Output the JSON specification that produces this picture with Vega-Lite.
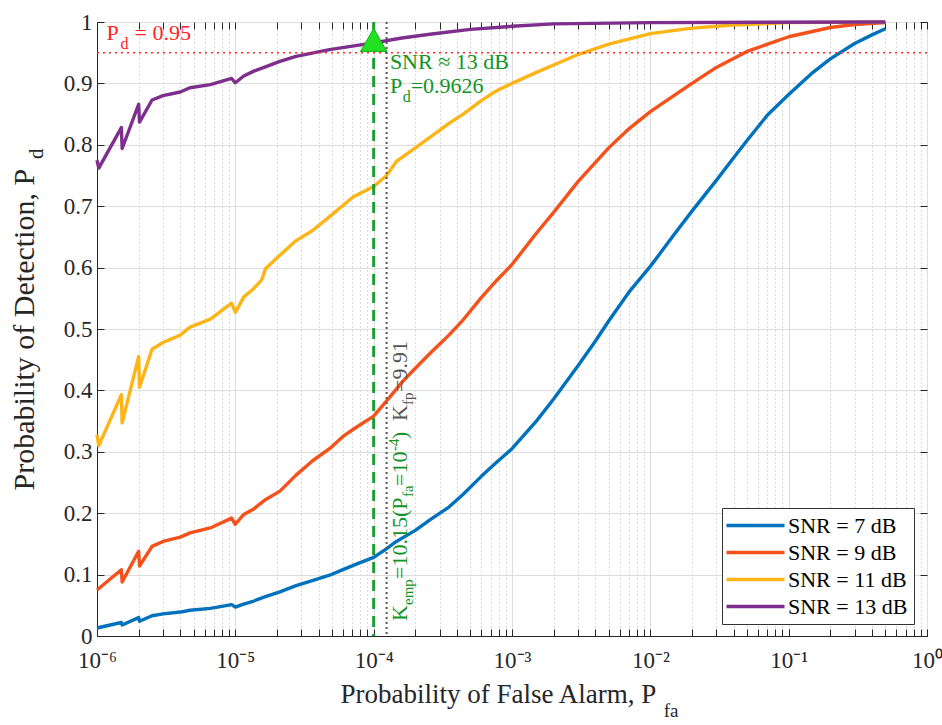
{
  "$schema": "https://vega.github.io/schema/vega-lite/v6.json",
  "width": 830,
  "height": 614,
  "autosize": "none",
  "padding": {"left": 97, "top": 22, "right": 15, "bottom": 89},
  "background": "white",
  "config": {
    "view": {"stroke": "#262626", "strokeWidth": 1},
    "font": "Liberation Serif, Times New Roman, serif",
    "text": {"font": "Liberation Serif, Times New Roman, serif"}
  },
  "datasets": {
    "curves": [
      {"snr": "SNR = 7 dB", "pfa": 1e-6, "pd": 0.013},
      {"snr": "SNR = 7 dB", "pfa": 1.5e-6, "pd": 0.022},
      {"snr": "SNR = 7 dB", "pfa": 1.52e-6, "pd": 0.018},
      {"snr": "SNR = 7 dB", "pfa": 2e-6, "pd": 0.03},
      {"snr": "SNR = 7 dB", "pfa": 2.03e-6, "pd": 0.024},
      {"snr": "SNR = 7 dB", "pfa": 2.5e-6, "pd": 0.033},
      {"snr": "SNR = 7 dB", "pfa": 3e-6, "pd": 0.036},
      {"snr": "SNR = 7 dB", "pfa": 4e-6, "pd": 0.039},
      {"snr": "SNR = 7 dB", "pfa": 4.7e-6, "pd": 0.042},
      {"snr": "SNR = 7 dB", "pfa": 6.6e-6, "pd": 0.045},
      {"snr": "SNR = 7 dB", "pfa": 9.4e-6, "pd": 0.051},
      {"snr": "SNR = 7 dB", "pfa": 1e-5, "pd": 0.047},
      {"snr": "SNR = 7 dB", "pfa": 1.15e-5, "pd": 0.052},
      {"snr": "SNR = 7 dB", "pfa": 1.36e-5, "pd": 0.057},
      {"snr": "SNR = 7 dB", "pfa": 1.65e-5, "pd": 0.064},
      {"snr": "SNR = 7 dB", "pfa": 2.1e-5, "pd": 0.072},
      {"snr": "SNR = 7 dB", "pfa": 2.75e-5, "pd": 0.082},
      {"snr": "SNR = 7 dB", "pfa": 3.6e-5, "pd": 0.09},
      {"snr": "SNR = 7 dB", "pfa": 4.8e-5, "pd": 0.099},
      {"snr": "SNR = 7 dB", "pfa": 6e-5, "pd": 0.108},
      {"snr": "SNR = 7 dB", "pfa": 7.5e-5, "pd": 0.117},
      {"snr": "SNR = 7 dB", "pfa": 1e-4, "pd": 0.128},
      {"snr": "SNR = 7 dB", "pfa": 1.2e-4, "pd": 0.14},
      {"snr": "SNR = 7 dB", "pfa": 1.46e-4, "pd": 0.154},
      {"snr": "SNR = 7 dB", "pfa": 2e-4, "pd": 0.172},
      {"snr": "SNR = 7 dB", "pfa": 2.55e-4, "pd": 0.189},
      {"snr": "SNR = 7 dB", "pfa": 3.5e-4, "pd": 0.21},
      {"snr": "SNR = 7 dB", "pfa": 4.44e-4, "pd": 0.231},
      {"snr": "SNR = 7 dB", "pfa": 6e-4, "pd": 0.26},
      {"snr": "SNR = 7 dB", "pfa": 7.74e-4, "pd": 0.283},
      {"snr": "SNR = 7 dB", "pfa": 1e-3, "pd": 0.305},
      {"snr": "SNR = 7 dB", "pfa": 1.5e-3, "pd": 0.35},
      {"snr": "SNR = 7 dB", "pfa": 2e-3, "pd": 0.386},
      {"snr": "SNR = 7 dB", "pfa": 3e-3, "pd": 0.44},
      {"snr": "SNR = 7 dB", "pfa": 4e-3, "pd": 0.48},
      {"snr": "SNR = 7 dB", "pfa": 5e-3, "pd": 0.513},
      {"snr": "SNR = 7 dB", "pfa": 7e-3, "pd": 0.56},
      {"snr": "SNR = 7 dB", "pfa": 1e-2, "pd": 0.602},
      {"snr": "SNR = 7 dB", "pfa": 1.5e-2, "pd": 0.655},
      {"snr": "SNR = 7 dB", "pfa": 2e-2, "pd": 0.692},
      {"snr": "SNR = 7 dB", "pfa": 3e-2, "pd": 0.742},
      {"snr": "SNR = 7 dB", "pfa": 4e-2, "pd": 0.779},
      {"snr": "SNR = 7 dB", "pfa": 5e-2, "pd": 0.807},
      {"snr": "SNR = 7 dB", "pfa": 7e-2, "pd": 0.848},
      {"snr": "SNR = 7 dB", "pfa": 0.1, "pd": 0.882},
      {"snr": "SNR = 7 dB", "pfa": 0.15, "pd": 0.918},
      {"snr": "SNR = 7 dB", "pfa": 0.2, "pd": 0.94},
      {"snr": "SNR = 7 dB", "pfa": 0.3, "pd": 0.965},
      {"snr": "SNR = 7 dB", "pfa": 0.4, "pd": 0.979},
      {"snr": "SNR = 7 dB", "pfa": 0.5, "pd": 0.989},
      {"snr": "SNR = 9 dB", "pfa": 1e-6, "pd": 0.075},
      {"snr": "SNR = 9 dB", "pfa": 1.5e-6, "pd": 0.108},
      {"snr": "SNR = 9 dB", "pfa": 1.52e-6, "pd": 0.088},
      {"snr": "SNR = 9 dB", "pfa": 2e-6, "pd": 0.138},
      {"snr": "SNR = 9 dB", "pfa": 2.03e-6, "pd": 0.114},
      {"snr": "SNR = 9 dB", "pfa": 2.5e-6, "pd": 0.146},
      {"snr": "SNR = 9 dB", "pfa": 3e-6, "pd": 0.154},
      {"snr": "SNR = 9 dB", "pfa": 4e-6, "pd": 0.161},
      {"snr": "SNR = 9 dB", "pfa": 4.7e-6, "pd": 0.168},
      {"snr": "SNR = 9 dB", "pfa": 6.6e-6, "pd": 0.176},
      {"snr": "SNR = 9 dB", "pfa": 9.4e-6, "pd": 0.192},
      {"snr": "SNR = 9 dB", "pfa": 1e-5, "pd": 0.182},
      {"snr": "SNR = 9 dB", "pfa": 1.15e-5, "pd": 0.198},
      {"snr": "SNR = 9 dB", "pfa": 1.36e-5, "pd": 0.207},
      {"snr": "SNR = 9 dB", "pfa": 1.65e-5, "pd": 0.222},
      {"snr": "SNR = 9 dB", "pfa": 2.1e-5, "pd": 0.236},
      {"snr": "SNR = 9 dB", "pfa": 2.75e-5, "pd": 0.262},
      {"snr": "SNR = 9 dB", "pfa": 3.6e-5, "pd": 0.285},
      {"snr": "SNR = 9 dB", "pfa": 4.8e-5, "pd": 0.305},
      {"snr": "SNR = 9 dB", "pfa": 6e-5, "pd": 0.325},
      {"snr": "SNR = 9 dB", "pfa": 7.5e-5, "pd": 0.34},
      {"snr": "SNR = 9 dB", "pfa": 1e-4, "pd": 0.358},
      {"snr": "SNR = 9 dB", "pfa": 1.24e-4, "pd": 0.383},
      {"snr": "SNR = 9 dB", "pfa": 1.63e-4, "pd": 0.415},
      {"snr": "SNR = 9 dB", "pfa": 2e-4, "pd": 0.436},
      {"snr": "SNR = 9 dB", "pfa": 2.55e-4, "pd": 0.46},
      {"snr": "SNR = 9 dB", "pfa": 3.5e-4, "pd": 0.49},
      {"snr": "SNR = 9 dB", "pfa": 4.44e-4, "pd": 0.515},
      {"snr": "SNR = 9 dB", "pfa": 6e-4, "pd": 0.551},
      {"snr": "SNR = 9 dB", "pfa": 7.74e-4, "pd": 0.579},
      {"snr": "SNR = 9 dB", "pfa": 1e-3, "pd": 0.605},
      {"snr": "SNR = 9 dB", "pfa": 1.5e-3, "pd": 0.656},
      {"snr": "SNR = 9 dB", "pfa": 2e-3, "pd": 0.69},
      {"snr": "SNR = 9 dB", "pfa": 3e-3, "pd": 0.74},
      {"snr": "SNR = 9 dB", "pfa": 5e-3, "pd": 0.795},
      {"snr": "SNR = 9 dB", "pfa": 7e-3, "pd": 0.826},
      {"snr": "SNR = 9 dB", "pfa": 1e-2, "pd": 0.854},
      {"snr": "SNR = 9 dB", "pfa": 2e-2, "pd": 0.9},
      {"snr": "SNR = 9 dB", "pfa": 3e-2, "pd": 0.926},
      {"snr": "SNR = 9 dB", "pfa": 5e-2, "pd": 0.952},
      {"snr": "SNR = 9 dB", "pfa": 0.1, "pd": 0.976},
      {"snr": "SNR = 9 dB", "pfa": 0.2, "pd": 0.991},
      {"snr": "SNR = 9 dB", "pfa": 0.3, "pd": 0.996},
      {"snr": "SNR = 9 dB", "pfa": 0.5, "pd": 0.999},
      {"snr": "SNR = 11 dB", "pfa": 1e-6, "pd": 0.328},
      {"snr": "SNR = 11 dB", "pfa": 1.03e-6, "pd": 0.31},
      {"snr": "SNR = 11 dB", "pfa": 1.5e-6, "pd": 0.393},
      {"snr": "SNR = 11 dB", "pfa": 1.52e-6, "pd": 0.347},
      {"snr": "SNR = 11 dB", "pfa": 2e-6, "pd": 0.455},
      {"snr": "SNR = 11 dB", "pfa": 2.03e-6, "pd": 0.405},
      {"snr": "SNR = 11 dB", "pfa": 2.5e-6, "pd": 0.467},
      {"snr": "SNR = 11 dB", "pfa": 3e-6, "pd": 0.478},
      {"snr": "SNR = 11 dB", "pfa": 4e-6, "pd": 0.49},
      {"snr": "SNR = 11 dB", "pfa": 4.7e-6, "pd": 0.503},
      {"snr": "SNR = 11 dB", "pfa": 6.6e-6, "pd": 0.516},
      {"snr": "SNR = 11 dB", "pfa": 9.4e-6, "pd": 0.542},
      {"snr": "SNR = 11 dB", "pfa": 1e-5, "pd": 0.527},
      {"snr": "SNR = 11 dB", "pfa": 1.15e-5, "pd": 0.552},
      {"snr": "SNR = 11 dB", "pfa": 1.36e-5, "pd": 0.566},
      {"snr": "SNR = 11 dB", "pfa": 1.55e-5, "pd": 0.58},
      {"snr": "SNR = 11 dB", "pfa": 1.65e-5, "pd": 0.598},
      {"snr": "SNR = 11 dB", "pfa": 2.1e-5, "pd": 0.62},
      {"snr": "SNR = 11 dB", "pfa": 2.75e-5, "pd": 0.644},
      {"snr": "SNR = 11 dB", "pfa": 3.6e-5, "pd": 0.66},
      {"snr": "SNR = 11 dB", "pfa": 4.8e-5, "pd": 0.683},
      {"snr": "SNR = 11 dB", "pfa": 7.1e-5, "pd": 0.715},
      {"snr": "SNR = 11 dB", "pfa": 1e-4, "pd": 0.732},
      {"snr": "SNR = 11 dB", "pfa": 1.24e-4, "pd": 0.75},
      {"snr": "SNR = 11 dB", "pfa": 1.46e-4, "pd": 0.773},
      {"snr": "SNR = 11 dB", "pfa": 2e-4, "pd": 0.795},
      {"snr": "SNR = 11 dB", "pfa": 2.55e-4, "pd": 0.812},
      {"snr": "SNR = 11 dB", "pfa": 3.5e-4, "pd": 0.835},
      {"snr": "SNR = 11 dB", "pfa": 4.44e-4, "pd": 0.85},
      {"snr": "SNR = 11 dB", "pfa": 6e-4, "pd": 0.872},
      {"snr": "SNR = 11 dB", "pfa": 7.74e-4, "pd": 0.888},
      {"snr": "SNR = 11 dB", "pfa": 1e-3, "pd": 0.9},
      {"snr": "SNR = 11 dB", "pfa": 1.5e-3, "pd": 0.918},
      {"snr": "SNR = 11 dB", "pfa": 2e-3, "pd": 0.93},
      {"snr": "SNR = 11 dB", "pfa": 3e-3, "pd": 0.947},
      {"snr": "SNR = 11 dB", "pfa": 5e-3, "pd": 0.964},
      {"snr": "SNR = 11 dB", "pfa": 1e-2, "pd": 0.981},
      {"snr": "SNR = 11 dB", "pfa": 2e-2, "pd": 0.99},
      {"snr": "SNR = 11 dB", "pfa": 4e-2, "pd": 0.995},
      {"snr": "SNR = 11 dB", "pfa": 0.1, "pd": 0.999},
      {"snr": "SNR = 11 dB", "pfa": 0.5, "pd": 1.0},
      {"snr": "SNR = 13 dB", "pfa": 1e-6, "pd": 0.775},
      {"snr": "SNR = 13 dB", "pfa": 1.03e-6, "pd": 0.762},
      {"snr": "SNR = 13 dB", "pfa": 1.5e-6, "pd": 0.828},
      {"snr": "SNR = 13 dB", "pfa": 1.52e-6, "pd": 0.794},
      {"snr": "SNR = 13 dB", "pfa": 2e-6, "pd": 0.866},
      {"snr": "SNR = 13 dB", "pfa": 2.03e-6, "pd": 0.837},
      {"snr": "SNR = 13 dB", "pfa": 2.5e-6, "pd": 0.873},
      {"snr": "SNR = 13 dB", "pfa": 3e-6, "pd": 0.88},
      {"snr": "SNR = 13 dB", "pfa": 4e-6, "pd": 0.886},
      {"snr": "SNR = 13 dB", "pfa": 4.7e-6, "pd": 0.893},
      {"snr": "SNR = 13 dB", "pfa": 6.6e-6, "pd": 0.898},
      {"snr": "SNR = 13 dB", "pfa": 9.4e-6, "pd": 0.908},
      {"snr": "SNR = 13 dB", "pfa": 1e-5, "pd": 0.901},
      {"snr": "SNR = 13 dB", "pfa": 1.15e-5, "pd": 0.912},
      {"snr": "SNR = 13 dB", "pfa": 1.36e-5, "pd": 0.92},
      {"snr": "SNR = 13 dB", "pfa": 1.65e-5, "pd": 0.927},
      {"snr": "SNR = 13 dB", "pfa": 2.1e-5, "pd": 0.936},
      {"snr": "SNR = 13 dB", "pfa": 2.75e-5, "pd": 0.944},
      {"snr": "SNR = 13 dB", "pfa": 4.8e-5, "pd": 0.955},
      {"snr": "SNR = 13 dB", "pfa": 1e-4, "pd": 0.966},
      {"snr": "SNR = 13 dB", "pfa": 1.6e-4, "pd": 0.974},
      {"snr": "SNR = 13 dB", "pfa": 2.55e-4, "pd": 0.98},
      {"snr": "SNR = 13 dB", "pfa": 5e-4, "pd": 0.988},
      {"snr": "SNR = 13 dB", "pfa": 1e-3, "pd": 0.993},
      {"snr": "SNR = 13 dB", "pfa": 2e-3, "pd": 0.997},
      {"snr": "SNR = 13 dB", "pfa": 1e-2, "pd": 0.999},
      {"snr": "SNR = 13 dB", "pfa": 0.5, "pd": 1.0}
    ],
    "refs": [
      {"name": "Pd = 0.95", "pd": 0.95},
      {"name": "Pfa = 1e-4", "pfa": 0.0001},
      {"name": "Kfp", "pfa": 0.000124}
    ],
    "ann": [
      {"g": "redBig", "t": "P", "x": 1.17e-6, "y": 0.9707},
      {"g": "redBig", "t": "= 0.95", "x": 1.87e-6, "y": 0.9707},
      {"g": "redSub", "t": "d", "x": 1.48e-6, "y": 0.956},
      {"g": "greenBig", "t": "SNR ≈ 13 dB", "x": 1.31e-4, "y": 0.9235},
      {"g": "greenBig", "t": "P", "x": 1.31e-4, "y": 0.8844},
      {"g": "greenSub", "t": "d", "x": 1.62e-4, "y": 0.8697},
      {"g": "greenBig", "t": "=0.9626", "x": 1.85e-4, "y": 0.8844},
      {"g": "marker", "t": "", "x": 1e-4, "y": 0.9626},
      {"g": "vGreenBig", "t": "K", "x": 1.73e-4, "y": 0.0244},
      {"g": "vGreenSub", "t": "emp", "x": 1.91e-4, "y": 0.0505},
      {"g": "vGreenBig", "t": "=10.15(P", "x": 1.73e-4, "y": 0.0928},
      {"g": "vGreenSub", "t": "fa", "x": 1.91e-4, "y": 0.2264},
      {"g": "vGreenBig", "t": "=10", "x": 1.73e-4, "y": 0.2443},
      {"g": "vGreenSup", "t": "-4", "x": 1.52e-4, "y": 0.3013},
      {"g": "vGreenBig", "t": ")", "x": 1.73e-4, "y": 0.3208},
      {"g": "vGreyBig", "t": "K", "x": 1.73e-4, "y": 0.3502},
      {"g": "vGreySub", "t": "fp", "x": 1.91e-4, "y": 0.3762},
      {"g": "vGreyBig", "t": "=9.91", "x": 1.73e-4, "y": 0.3974},
      {"g": "ySub", "t": "d", "x": 4.05e-7, "y": 0.777},
      {"g": "xSub", "t": "fa", "x": 0.0125, "y": -0.1319}
    ]
  },
  "resolve": {"axis": {"x": "independent", "y": "independent"}},
  "layer": [
    {
      "data": {"name": "curves"},
      "mark": {"type": "line", "strokeWidth": 3.4, "strokeJoin": "round"},
      "encoding": {
        "x": {
          "field": "pfa", "type": "quantitative",
          "scale": {"type": "log", "domain": [1e-6, 1], "nice": false},
          "axis": {
            "orient": "bottom",
            "values": [1e-6, 2e-6, 3e-6, 4e-6, 5e-6, 6e-6, 7e-6, 8e-6, 9e-6, 1e-5, 2e-5, 3e-5, 4e-5, 5e-5, 6e-5, 7e-5, 8e-5, 9e-5, 1e-4, 2e-4, 3e-4, 4e-4, 5e-4, 6e-4, 7e-4, 8e-4, 9e-4, 0.001, 0.002, 0.003, 0.004, 0.005, 0.006, 0.007, 0.008, 0.009, 0.01, 0.02, 0.03, 0.04, 0.05, 0.06, 0.07, 0.08, 0.09, 0.1, 0.2, 0.3, 0.4, 0.5, 0.6, 0.7, 0.8, 0.9, 1],
            "labelExpr": "abs(log(datum.value)/LN10 - round(log(datum.value)/LN10)) > 0.01 ? '' : ['10⁰','10⁻¹','10⁻²','10⁻³','10⁻⁴','10⁻⁵','10⁻⁶'][-round(log(datum.value)/LN10)]",
            "labelFont": "Liberation Serif, Times New Roman, serif", "labelFontSize": 23, "labelColor": "#262626",
            "labelPadding": 20, "labelOverlap": false, "labelFlush": false, "labelBound": false,
            "tickSize": -7, "tickColor": "#262626", "tickWidth": 1,
            "domainColor": "#262626",
            "grid": true,
            "gridColor": {"condition": {"test": "abs(log(datum.value)/LN10 - round(log(datum.value)/LN10)) > 0.01", "value": "#b8b8b8"}, "value": "#dddddd"},
            "gridDash": {"condition": {"test": "abs(log(datum.value)/LN10 - round(log(datum.value)/LN10)) > 0.01", "value": [1, 3]}, "value": []},
            "title": "Probability of False Alarm,  P",
            "titleFont": "Liberation Serif, Times New Roman, serif", "titleFontSize": 27, "titleFontWeight": "normal", "titleColor": "#262626",
            "titleAnchor": "start", "titleAlign": "left", "titleBaseline": "alphabetic", "titleX": 243, "titleY": 66
          }
        },
        "y": {
          "field": "pd", "type": "quantitative",
          "scale": {"domain": [0, 1], "nice": false},
          "axis": {
            "orient": "left",
            "values": [0, 0.1, 0.2, 0.3, 0.4, 0.5, 0.6, 0.7, 0.8, 0.9, 1],
            "labelExpr": "datum.value == 0 ? '0' : datum.value == 1 ? '1' : format(datum.value, '.1f')",
            "labelFont": "Liberation Serif, Times New Roman, serif", "labelFontSize": 23, "labelColor": "#262626",
            "labelPadding": 12, "labelOverlap": false, "labelFlush": false, "labelBound": false,
            "tickSize": -7, "tickColor": "#262626",
            "domainColor": "#262626",
            "grid": true, "gridColor": "#dddddd",
            "title": "Probability of Detection,  P",
            "titleFont": "Liberation Serif, Times New Roman, serif", "titleFontSize": 30, "titleFontWeight": "normal", "titleColor": "#262626",
            "titleAngle": 270, "titleAnchor": "start", "titleAlign": "left", "titleBaseline": "alphabetic", "titleX": -64, "titleY": 468
          }
        },
        "color": {
          "field": "snr", "type": "nominal",
          "scale": {"domain": ["SNR = 7 dB", "SNR = 9 dB", "SNR = 11 dB", "SNR = 13 dB"], "range": ["#0072BD", "#F4511B", "#FDB417", "#7E2F8E"]},
          "legend": {
            "title": null, "orient": "none", "legendX": 625, "legendY": 486,
            "labelFont": "Liberation Serif, Times New Roman, serif", "labelFontSize": 22, "labelColor": "#000000",
            "symbolType": "M-3,0H3", "symbolSize": 374, "symbolStrokeWidth": 3.5,
            "symbolOffset": 16, "labelOffset": 21,
            "strokeColor": "#333333", "fillColor": "white", "padding": 6, "rowPadding": 4
          }
        }
      }
    },
    {
      "data": {"name": "curves"},
      "mark": {"type": "point", "opacity": 0},
      "encoding": {
        "x": {
          "field": "pfa", "type": "quantitative",
          "scale": {"type": "log", "domain": [1e-6, 1], "nice": false},
          "axis": {
            "orient": "top",
            "values": [1e-6, 2e-6, 3e-6, 4e-6, 5e-6, 6e-6, 7e-6, 8e-6, 9e-6, 1e-5, 2e-5, 3e-5, 4e-5, 5e-5, 6e-5, 7e-5, 8e-5, 9e-5, 1e-4, 2e-4, 3e-4, 4e-4, 5e-4, 6e-4, 7e-4, 8e-4, 9e-4, 0.001, 0.002, 0.003, 0.004, 0.005, 0.006, 0.007, 0.008, 0.009, 0.01, 0.02, 0.03, 0.04, 0.05, 0.06, 0.07, 0.08, 0.09, 0.1, 0.2, 0.3, 0.4, 0.5, 0.6, 0.7, 0.8, 0.9, 1],
            "labels": false, "grid": false, "domain": false, "title": null,
            "tickSize": -7, "tickColor": "#262626"
          }
        },
        "y": {
          "field": "pd", "type": "quantitative",
          "scale": {"domain": [0, 1], "nice": false},
          "axis": {
            "orient": "right",
            "values": [0, 0.1, 0.2, 0.3, 0.4, 0.5, 0.6, 0.7, 0.8, 0.9, 1],
            "labels": false, "grid": false, "domain": false, "title": null,
            "tickSize": -7, "tickColor": "#262626"
          }
        }
      }
    },
    {
      "data": {"name": "refs"},
      "transform": [{"filter": "datum.name == 'Pd = 0.95'"}],
      "mark": {"type": "rule", "color": "#ff2a2a", "strokeDash": [2, 4], "strokeWidth": 1.6},
      "encoding": {
        "y": {"field": "pd", "type": "quantitative", "scale": {"domain": [0, 1], "nice": false}, "axis": null}
      }
    },
    {
      "data": {"name": "refs"},
      "transform": [{"filter": "datum.name == 'Kfp'"}],
      "mark": {"type": "rule", "color": "#555555", "strokeDash": [2, 3], "strokeWidth": 2},
      "encoding": {
        "x": {"field": "pfa", "type": "quantitative", "scale": {"type": "log", "domain": [1e-6, 1], "nice": false}, "axis": null}
      }
    },
    {
      "data": {"name": "refs"},
      "transform": [{"filter": "datum.name == 'Pfa = 1e-4'"}],
      "mark": {"type": "rule", "color": "#1e9e32", "strokeDash": [11, 7], "strokeWidth": 3},
      "encoding": {
        "x": {"field": "pfa", "type": "quantitative", "scale": {"type": "log", "domain": [1e-6, 1], "nice": false}, "axis": null}
      }
    },
    {
      "data": {"name": "ann"},
      "transform": [{"filter": "datum.g == 'marker'"}],
      "mark": {"type": "point", "shape": "triangle-up", "filled": true, "fill": "#22e022", "stroke": "#16b016", "strokeWidth": 1, "size": 700, "opacity": 1, "yOffset": -5},
      "encoding": {
        "x": {"field": "x", "type": "quantitative", "scale": {"type": "log", "domain": [1e-6, 1], "nice": false}, "axis": null},
        "y": {"field": "y", "type": "quantitative", "scale": {"domain": [0, 1], "nice": false}, "axis": null}
      }
    },
    {
      "data": {"name": "ann"},
      "transform": [{"filter": "datum.g == 'redBig'"}],
      "mark": {"type": "text", "align": "left", "baseline": "alphabetic", "font": "Liberation Serif, Times New Roman, serif", "fontSize": 22, "color": "#ff2424"},
      "encoding": {
        "x": {"field": "x", "type": "quantitative", "scale": {"type": "log", "domain": [1e-6, 1], "nice": false}, "axis": null},
        "y": {"field": "y", "type": "quantitative", "scale": {"domain": [0, 1], "nice": false}, "axis": null},
        "text": {"field": "t"}
      }
    },
    {
      "data": {"name": "ann"},
      "transform": [{"filter": "datum.g == 'redSub'"}],
      "mark": {"type": "text", "align": "left", "baseline": "alphabetic", "font": "Liberation Serif, Times New Roman, serif", "fontSize": 16, "color": "#ff2424"},
      "encoding": {
        "x": {"field": "x", "type": "quantitative", "scale": {"type": "log", "domain": [1e-6, 1], "nice": false}, "axis": null},
        "y": {"field": "y", "type": "quantitative", "scale": {"domain": [0, 1], "nice": false}, "axis": null},
        "text": {"field": "t"}
      }
    },
    {
      "data": {"name": "ann"},
      "transform": [{"filter": "datum.g == 'greenBig'"}],
      "mark": {"type": "text", "align": "left", "baseline": "alphabetic", "font": "Liberation Serif, Times New Roman, serif", "fontSize": 22, "color": "#119426"},
      "encoding": {
        "x": {"field": "x", "type": "quantitative", "scale": {"type": "log", "domain": [1e-6, 1], "nice": false}, "axis": null},
        "y": {"field": "y", "type": "quantitative", "scale": {"domain": [0, 1], "nice": false}, "axis": null},
        "text": {"field": "t"}
      }
    },
    {
      "data": {"name": "ann"},
      "transform": [{"filter": "datum.g == 'greenSub'"}],
      "mark": {"type": "text", "align": "left", "baseline": "alphabetic", "font": "Liberation Serif, Times New Roman, serif", "fontSize": 16, "color": "#119426"},
      "encoding": {
        "x": {"field": "x", "type": "quantitative", "scale": {"type": "log", "domain": [1e-6, 1], "nice": false}, "axis": null},
        "y": {"field": "y", "type": "quantitative", "scale": {"domain": [0, 1], "nice": false}, "axis": null},
        "text": {"field": "t"}
      }
    },
    {
      "data": {"name": "ann"},
      "transform": [{"filter": "datum.g == 'vGreenBig'"}],
      "mark": {"type": "text", "angle": 270, "align": "left", "baseline": "alphabetic", "font": "Liberation Serif, Times New Roman, serif", "fontSize": 22, "color": "#119426"},
      "encoding": {
        "x": {"field": "x", "type": "quantitative", "scale": {"type": "log", "domain": [1e-6, 1], "nice": false}, "axis": null},
        "y": {"field": "y", "type": "quantitative", "scale": {"domain": [0, 1], "nice": false}, "axis": null},
        "text": {"field": "t"}
      }
    },
    {
      "data": {"name": "ann"},
      "transform": [{"filter": "datum.g == 'vGreenSub' || datum.g == 'vGreenSup'"}],
      "mark": {"type": "text", "angle": 270, "align": "left", "baseline": "alphabetic", "font": "Liberation Serif, Times New Roman, serif", "fontSize": 15, "color": "#119426"},
      "encoding": {
        "x": {"field": "x", "type": "quantitative", "scale": {"type": "log", "domain": [1e-6, 1], "nice": false}, "axis": null},
        "y": {"field": "y", "type": "quantitative", "scale": {"domain": [0, 1], "nice": false}, "axis": null},
        "text": {"field": "t"}
      }
    },
    {
      "data": {"name": "ann"},
      "transform": [{"filter": "datum.g == 'vGreyBig'"}],
      "mark": {"type": "text", "angle": 270, "align": "left", "baseline": "alphabetic", "font": "Liberation Serif, Times New Roman, serif", "fontSize": 22, "color": "#555555"},
      "encoding": {
        "x": {"field": "x", "type": "quantitative", "scale": {"type": "log", "domain": [1e-6, 1], "nice": false}, "axis": null},
        "y": {"field": "y", "type": "quantitative", "scale": {"domain": [0, 1], "nice": false}, "axis": null},
        "text": {"field": "t"}
      }
    },
    {
      "data": {"name": "ann"},
      "transform": [{"filter": "datum.g == 'vGreySub'"}],
      "mark": {"type": "text", "angle": 270, "align": "left", "baseline": "alphabetic", "font": "Liberation Serif, Times New Roman, serif", "fontSize": 15, "color": "#555555"},
      "encoding": {
        "x": {"field": "x", "type": "quantitative", "scale": {"type": "log", "domain": [1e-6, 1], "nice": false}, "axis": null},
        "y": {"field": "y", "type": "quantitative", "scale": {"domain": [0, 1], "nice": false}, "axis": null},
        "text": {"field": "t"}
      }
    },
    {
      "data": {"name": "ann"},
      "transform": [{"filter": "datum.g == 'ySub'"}],
      "mark": {"type": "text", "angle": 270, "align": "left", "baseline": "alphabetic", "font": "Liberation Serif, Times New Roman, serif", "fontSize": 21, "color": "#262626"},
      "encoding": {
        "x": {"field": "x", "type": "quantitative", "scale": {"type": "log", "domain": [1e-6, 1], "nice": false}, "axis": null},
        "y": {"field": "y", "type": "quantitative", "scale": {"domain": [0, 1], "nice": false}, "axis": null},
        "text": {"field": "t"}
      }
    },
    {
      "data": {"name": "ann"},
      "transform": [{"filter": "datum.g == 'xSub'"}],
      "mark": {"type": "text", "align": "left", "baseline": "alphabetic", "font": "Liberation Serif, Times New Roman, serif", "fontSize": 19, "color": "#262626"},
      "encoding": {
        "x": {"field": "x", "type": "quantitative", "scale": {"type": "log", "domain": [1e-6, 1], "nice": false}, "axis": null},
        "y": {"field": "y", "type": "quantitative", "scale": {"domain": [0, 1], "nice": false}, "axis": null},
        "text": {"field": "t"}
      }
    }
  ]
}
